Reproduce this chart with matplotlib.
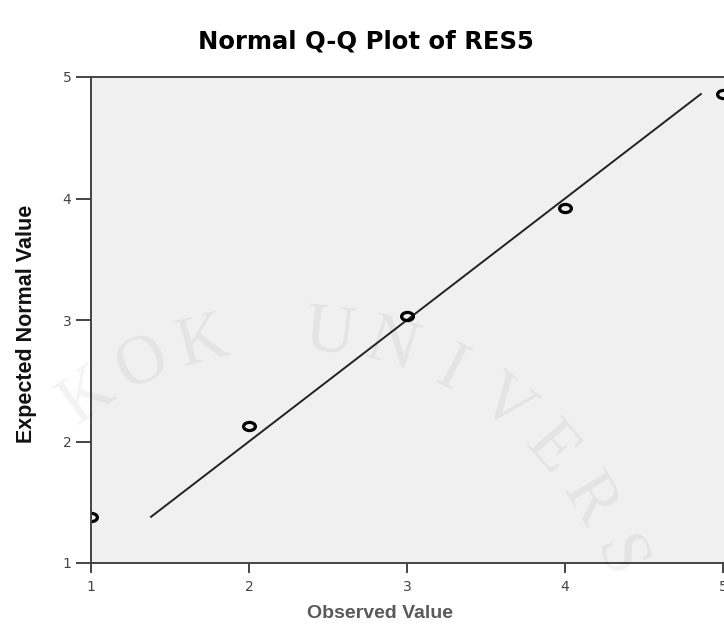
import numpy as np
import matplotlib
matplotlib.use('Agg')
import matplotlib.pyplot as plt
from matplotlib.path import Path
from matplotlib.transforms import Affine2D

# observed values and their expected normal values
observed = [1, 2, 3, 4, 5]
expected = [1.38, 2.13, 3.03, 3.92, 4.86]
# reference line runs along y = x between the smallest and largest expected value
line_x = [1.38, 4.86]
line_y = [1.38, 4.86]
ticks = [1, 2, 3, 4, 5]

# faint watermark text in the background
watermark = 'BANGKOK UNIVERSITY'

W, H = 724, 629
fig = plt.figure(figsize=(W / 100, H / 100), dpi=100)
ax = fig.add_axes([91/W, 1 - 563/H, 1 - 91/W + 0.003, (563 - 77)/H])
ax.set_facecolor('#f0f0f0')

# the picture is a bit wider than tall, so the circles look like flat ellipses
ring = Path.unit_circle().transformed(Affine2D().scale(1.45, 1.0))

ax.plot(line_x, line_y, color='#222222', linewidth=1.4)
ax.plot(observed, expected, linestyle='none', marker=ring, markersize=8.5,
        markerfacecolor='none', markeredgecolor='black', markeredgewidth=2.3)

ax.set_xlim(1, 5.02)
ax.set_ylim(1, 5)
ax.set_xticks(ticks)
ax.set_yticks(ticks)
ax.spines['right'].set_visible(False)
for s in ['left', 'bottom', 'top']:
    ax.spines[s].set_color('#444444')
    ax.spines[s].set_linewidth(1.4)
ax.tick_params(axis='y', direction='out', length=10.5, width=1.4, color='#444444',
               labelsize=10, labelcolor='#444444', pad=3.5)
ax.tick_params(axis='x', direction='out', length=7, width=1.4, color='#444444',
               labelsize=10, labelcolor='#444444', pad=5)

fig.text(366/W, 1 - 42/H, 'Normal Q-Q Plot of RES5', ha='center', va='center',
         fontsize=17.5, fontweight='bold', family=['DejaVu Sans'])
fig.text(380/W, 1 - 613/H, 'Observed Value', ha='center', va='center',
         fontsize=14, fontweight='bold', color='#5a5a5a',
         family=['Liberation Sans', 'DejaVu Sans'])
fig.text(27/W, 1 - 324/H, 'Expected Normal Value', ha='center', va='center',
         rotation=90, fontsize=15.5, fontweight='bold', color='#111111',
         family=['Liberation Sans', 'DejaVu Sans'])

# watermark letters placed on an arc, only those that fit inside the picture
cx, cy, r = 290, 680, 348
for i, ch in enumerate(watermark):
    if ch == ' ':
        continue
    ang = -25 + (i - 5) * 10.5
    a = np.radians(ang)
    px = cx + r * np.sin(a)
    py = cy - r * np.cos(a)
    if px < 45 or px > W - 40 or py > H - 40:
        continue
    fig.text(px / W, 1 - py / H, ch, ha='center', va='center', rotation=-ang,
             fontsize=50, color='black', alpha=0.05,
             family=['Liberation Serif', 'DejaVu Serif'])

fig.savefig('out.png', dpi=100)
